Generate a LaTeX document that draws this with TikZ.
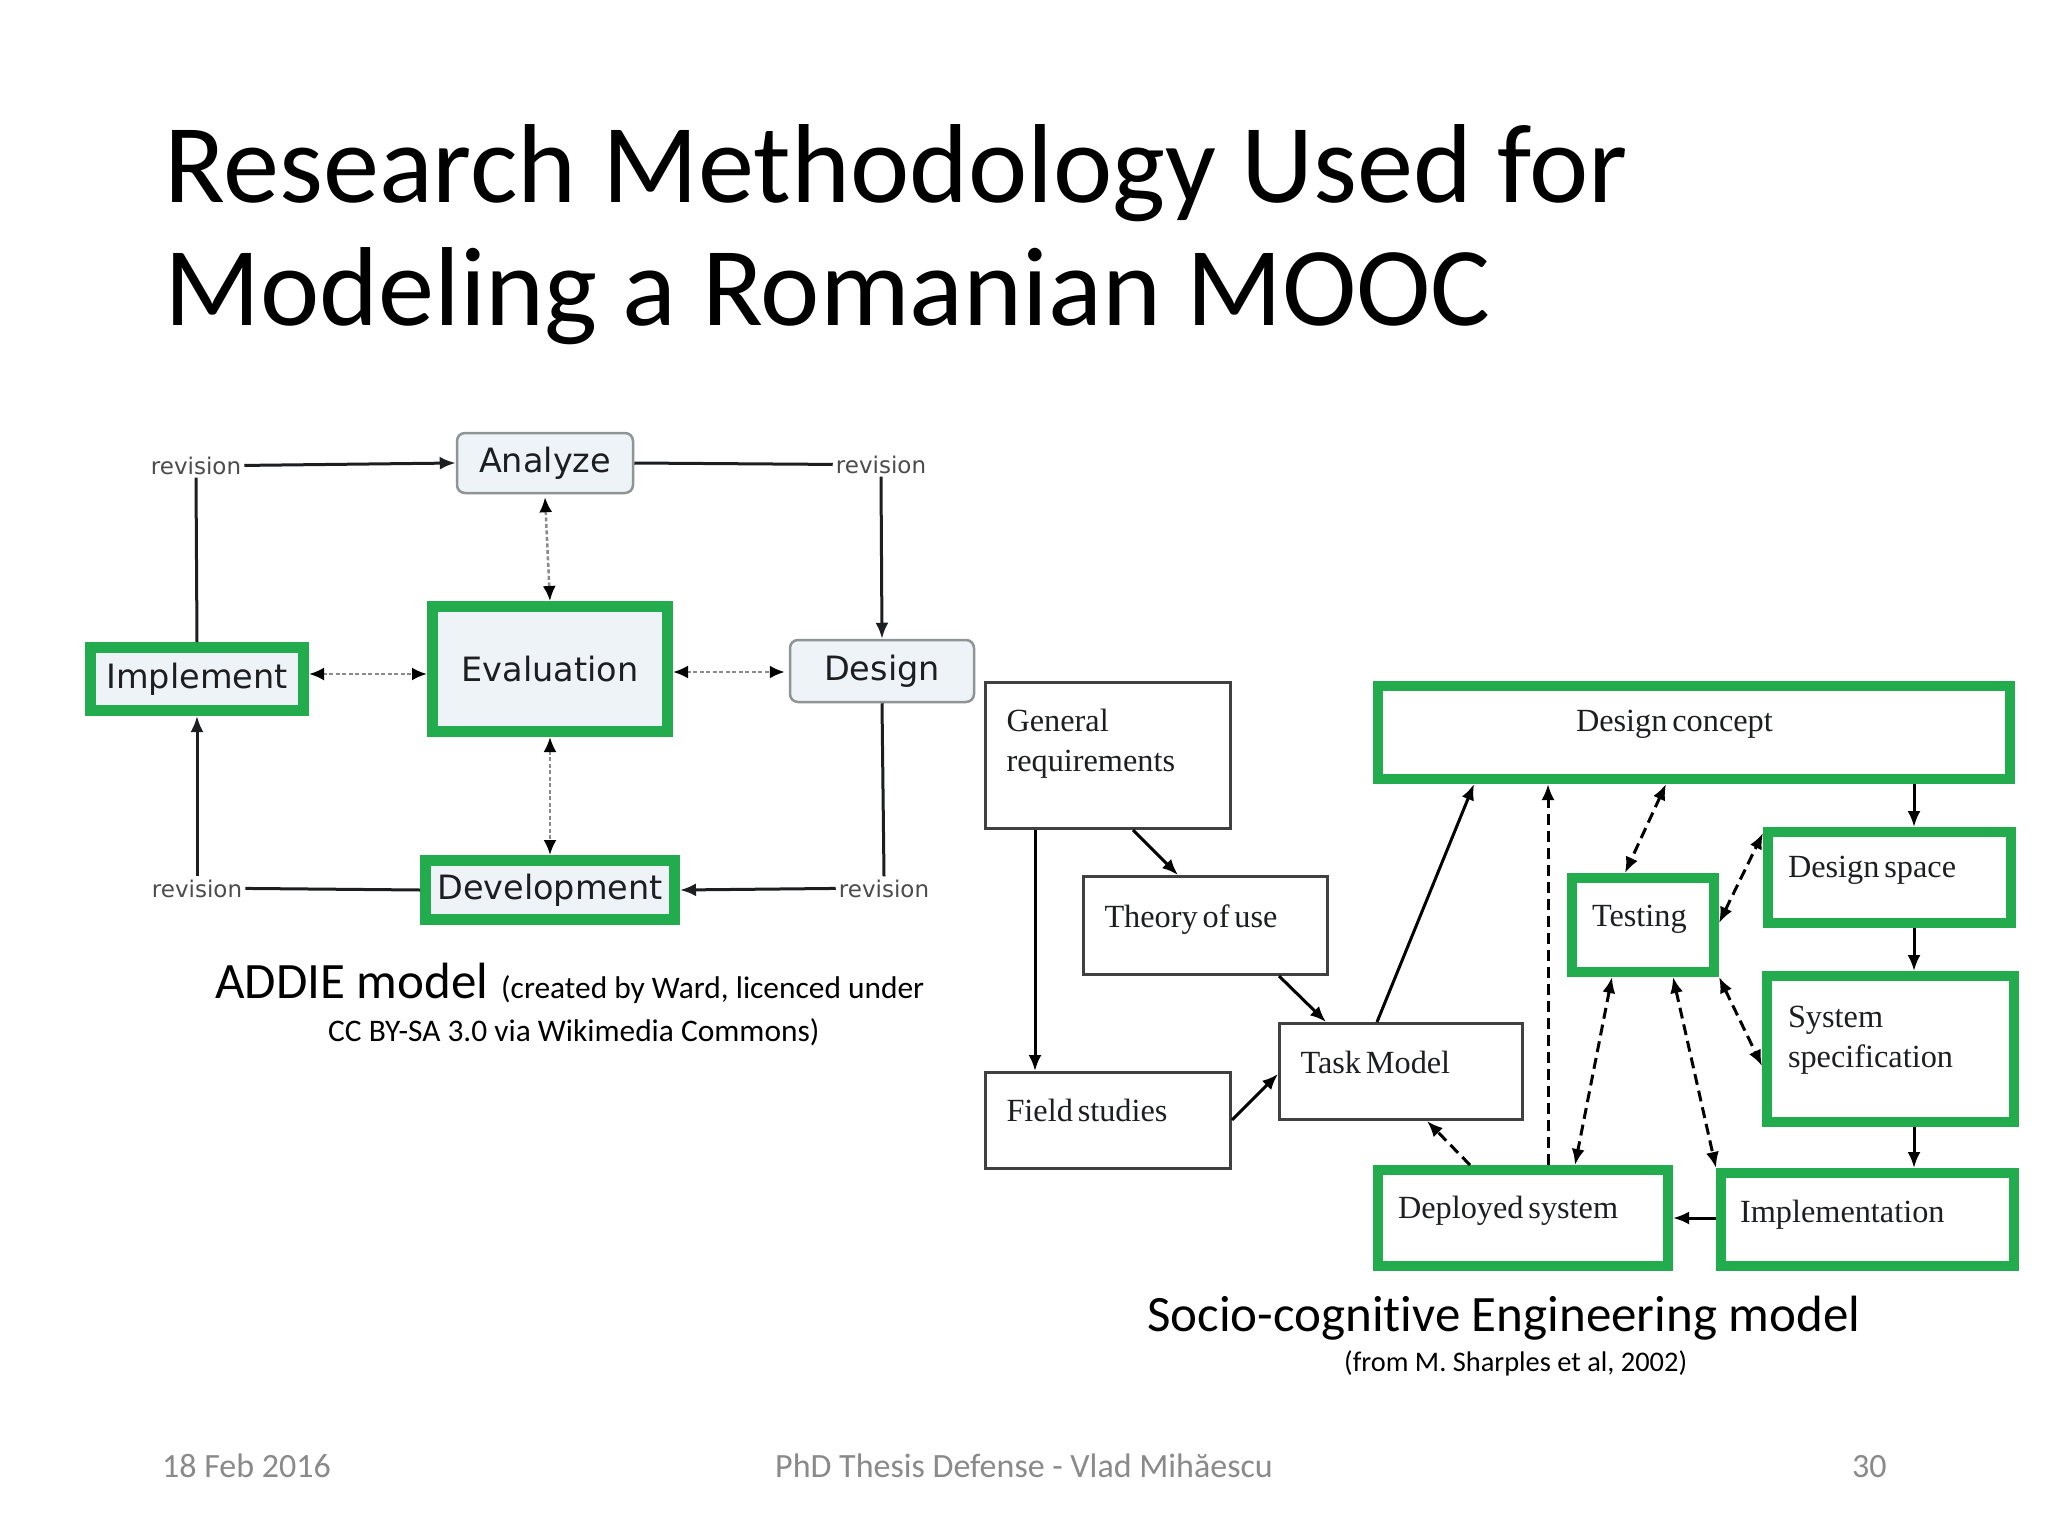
\documentclass[tikz,border=0pt]{standalone}
\usepackage{fontspec}
\setmainfont[Ligatures=NoCommon]{Carlito}
\newfontfamily\addiefont{DejaVu Sans}
\newfontfamily\scefont[WordSpace=0.6]{Liberation Serif}
\usetikzlibrary{arrows.meta}
\definecolor{grn}{HTML}{22AC4D}
\definecolor{pale}{HTML}{EEF3F7}
\definecolor{footgrey}{HTML}{8A8A8A}
\definecolor{edge}{HTML}{8F9496}
\definecolor{ink}{HTML}{1C1E20}
\definecolor{dotgrey}{HTML}{8A8A8A}
\tikzset{
  caption/.style={anchor=base west,inner sep=0pt,text=black},
  footer/.style={anchor=base west,inner sep=0pt,text=footgrey,font=\fontsize{34}{40}\selectfont},
  addie/.style={font=\addiefont\fontsize{33.5}{40}\selectfont,text=ink,align=center,inner sep=0pt},
  softbox/.style={addie,draw=edge,line width=2.5pt,fill=pale,rounded corners=8pt},
  greenbox/.style={addie,draw=grn,line width=11pt,fill=pale},
  rev/.style={anchor=base,font=\addiefont\fontsize{23}{27}\selectfont,text=black!70,inner xsep=3pt,inner ysep=3pt},
  solidline/.style={draw=ink,line width=3pt},
  solidarrow/.style={solidline,-{Latex[length=16pt,width=13pt]}},
  dotarrow/.style={draw=dotgrey,line width=2.5pt,dash pattern=on 4pt off 2.5pt,{Latex[length=15pt,width=13pt,color=black]}-{Latex[length=15pt,width=13pt,color=black]}},
  scebox/.style n args={4}{anchor=north west,align=flush left,inner ysep=0pt,inner xsep=#3,text width=#1-2*#3,text height=#4,text depth=#2-#4,
    font=\scefont\fontsize{32.3}{40}\selectfont,text=ink},
  plainbox/.style={draw=black!75,line width=3pt},
  gbox/.style={draw=grn,line width=10pt},
  scearrow/.style={draw=black,line width=3pt,-{Latex[length=16pt,width=13pt]}},
  scedash/.style={draw=black,line width=3pt,dash pattern=on 11pt off 6pt,{Latex[length=16pt,width=13pt]}-{Latex[length=16pt,width=13pt]}},
  scedashone/.style={draw=black,line width=3pt,dash pattern=on 11pt off 6pt,-{Latex[length=16pt,width=13pt]}}
}
\begin{document}
\begin{tikzpicture}[x=1pt,y=-1pt]
\useasboundingbox (0,0) rectangle (2048,1536);
\fill[white] (0,0) rectangle (2048,1536);
% title
\node[caption,font=\fontsize{112.3}{123}\selectfont] (t1) at (164,202) {Research Methodology Used for};
\node[caption,font=\fontsize{112.3}{123}\selectfont] (t2) at (164,325) {Modeling a Romanian MOOC};
% ADDIE
\node[softbox,minimum width=176pt,minimum height=60pt] (analyze) at (545,463) {Analyze};
\node[softbox,minimum width=184pt,minimum height=62pt] (design) at (882,671) {Design};
\node[greenbox,minimum width=213pt,minimum height=63pt] (implement) at (197,679) {\raisebox{2.5pt}{Implement}};
\node[greenbox,minimum width=235pt,minimum height=125pt] (evaluation) at (550,669) {Evaluation};
\node[greenbox,minimum width=249pt,minimum height=59pt] (development) at (550,890) {Development};
\node[rev] (revtl) at (196,474) {revision};
\node[rev] (revtr) at (881,473) {revision};
\node[rev] (revbl) at (197,897) {revision};
\node[rev] (revbr) at (884,897) {revision};
\draw[solidarrow] (revtl.east) -- (analyze.west);
\draw[solidline] (analyze.east) -- (revtr.west);
\draw[solidarrow] (revtr.south) -- (design.north);
\draw[solidline] (design.south) -- (revbr.north);
\draw[solidarrow] (revbr.west) -- (development.east);
\draw[solidline] (development.west) -- (revbl.east);
\draw[solidarrow] (revbl.north) -- (implement.south);
\draw[solidline] (implement.north) -- (revtl.south);
\draw[dotarrow] ([yshift=-3pt]analyze.south) -- (evaluation.north);
\draw[dotarrow] (evaluation.south) -- (development.north);
\draw[dotarrow] ([yshift=5pt]implement.east) -- ([yshift=-5pt]evaluation.west);
\draw[dotarrow] ([yshift=-3pt]evaluation.east) -- ([xshift=-4pt,yshift=-1pt]design.west);
% ADDIE caption
\node[caption,font=\fontsize{51}{60}\selectfont] (addiecap) at (215,998) {ADDIE model};
\node[caption,font=\fontsize{31.4}{38}\selectfont] (addiecapb) at (501,998) {(created by Ward, licenced under};
\node[caption,font=\fontsize{31.4}{38}\selectfont] (addiecapc) at (328,1041) {CC BY-SA 3.0 via Wikimedia Commons)};
% Socio-cognitive boxes
\node[plainbox,scebox={245pt}{146pt}{21pt}{49pt}] (gen) at (984,681) {General\\requirements};
\node[plainbox,scebox={244pt}{98pt}{21pt}{51pt}] (theory) at (1082,875) {Theory of use};
\node[plainbox,scebox={245pt}{96pt}{21pt}{49pt}] (field) at (984,1071) {Field studies};
\node[plainbox,scebox={243pt}{96pt}{21pt}{50pt}] (task) at (1278,1022) {Task Model};
\node[gbox,scebox={632pt}{93pt}{198pt}{45pt}] (dc) at (1373,681) {Design concept};
\node[gbox,scebox={243pt}{91pt}{20pt}{45pt}] (ds) at (1763,827) {Design space};
\node[gbox,scebox={142pt}{94pt}{20pt}{48pt}] (testing) at (1567,873) {Testing};
\node[gbox,scebox={247pt}{146pt}{21pt}{51pt}] (ss) at (1762,971) {System\\specification};
\node[gbox,scebox={290pt}{96pt}{20pt}{48pt}] (dep) at (1373,1165) {Deployed system};
\node[gbox,scebox={293pt}{93pt}{19pt}{49pt}] (impl) at (1716,1168) {Implementation};
% Socio-cognitive connectors
\draw[scearrow] ([xshift=51pt]gen.south west) -- ([xshift=51pt]field.north west);
\draw[scearrow] ([xshift=149pt]gen.south west) -- ([xshift=96pt]theory.north west);
\draw[scearrow] ([xshift=197pt]theory.south west) -- ([xshift=48pt]task.north west);
\draw[scearrow] ([yshift=-49pt]field.north east) -- ([yshift=-52pt]task.north west);
\draw[scearrow] ([xshift=99pt]task.north west) -- ([xshift=101pt]dc.south west);
\draw[scedashone] ([xshift=97pt]dep.north west) -- ([xshift=149pt]task.south west);
\draw[scedashone] ([xshift=175pt]dep.north west) -- ([xshift=175pt]dc.south west);
\draw[scedash] ([xshift=293pt]dc.south west) -- ([xshift=58pt]testing.north west);
\draw[scedash] ([yshift=54pt]testing.south east) -- ([yshift=-6pt]ds.north west);
\draw[scedash] (testing.south east) -- ([yshift=-95pt]ss.north west);
\draw[scedash] ([xshift=45pt]testing.south west) -- ([xshift=202pt]dep.north west);
\draw[scedash] ([xshift=106pt]testing.south west) -- (impl.north west);
\draw[scearrow] ([xshift=541pt]dc.south west) -- ([xshift=151pt]ds.north west);
\draw[scearrow] ([xshift=151pt]ds.south west) -- ([xshift=152pt]ss.north west);
\draw[scearrow] ([xshift=152pt]ss.south west) -- ([xshift=198pt]impl.north west);
\draw[scearrow] ([yshift=-50pt]impl.north west) -- ([yshift=-53pt]dep.north east);
% captions
\node[caption,font=\fontsize{51}{60}\selectfont] (scecap) at (1147,1331) {Socio-cognitive Engineering model};
\node[caption,font=\fontsize{28.4}{34}\selectfont] (scecapb) at (1344,1371) {(from M. Sharples et al, 2002)};
% footer
\node[footer] (fdate) at (162,1477) {18 Feb 2016};
\node[footer] (ftitle) at (775,1477) {PhD Thesis Defense - Vlad Mihăescu};
\node[footer] (fnum) at (1852,1477) {30};
\end{tikzpicture}
\end{document}
